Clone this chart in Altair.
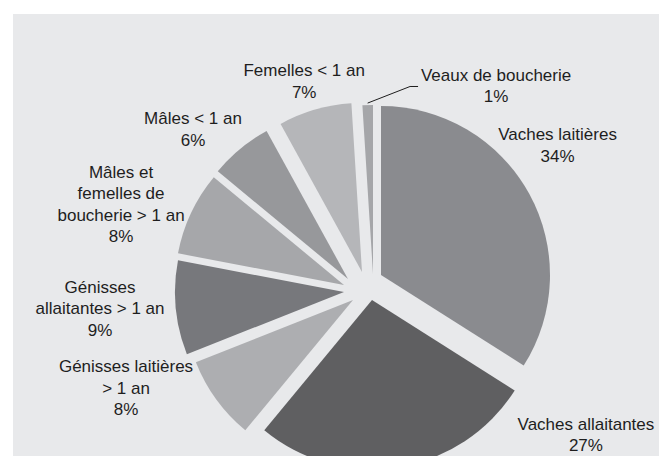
import math
import altair as alt
import pandas as pd

# ---------------- data ----------------
categories = [
    "Vaches laitières",
    "Vaches allaitantes",
    "Génisses laitières > 1 an",
    "Génisses allaitantes > 1 an",
    "Mâles et femelles de boucherie > 1 an",
    "Mâles < 1 an",
    "Femelles < 1 an",
    "Veaux de boucherie",
]
shares = [34, 27, 8, 9, 8, 6, 7, 1]
label_names = [
    "Vaches laitières",
    "Vaches allaitantes",
    "Génisses laitières\n> 1 an",
    "Génisses\nallaitantes > 1 an",
    "Mâles et\nfemelles de\nboucherie > 1 an",
    "Mâles < 1 an",
    "Femelles < 1 an",
    "Veaux de boucherie",
]

# ---------------- style ----------------
colors = ["#8a8b8f", "#5f5f61", "#adaeb1", "#77787c",
          "#a6a7aa", "#97989b", "#b5b6b9", "#a5a6a9"]
BG = "#e8e9eb"
TEXT = "#1e1e1e"
PIE_CX, PIE_CY = 352, 272       # pie centre inside the view (px)
RADIUS = 169
LINE_H = 21.5
# explosion of each slice (px)
shift_x = [16, 7, -12, -21, -21, -17, -3, 8]
shift_y = [-11, 14, 14, 6, -1, -7, -14, -12]
# label placement (block centre), polar around the pie centre (deg clockwise from north, px)
label_angle = [54.0, 124.1, 246.7, 265.0, 288.4, 312.2, 343.4, 33.3]
label_dist = [238.0, 266.8, 260.2, 266.0, 257.1, 232.2, 212.9, 238.7]

W, H = 646, 442

# ---------------- derived tables ----------------
total = sum(shares)
rows = []
cum = 0
for i, (c, v) in enumerate(zip(categories, shares)):
    a0 = cum / total * 2 * math.pi
    cum += v
    a1 = cum / total * 2 * math.pi
    la = math.radians(label_angle[i])
    text = label_names[i] + "\n" + f"{v}%"
    n_lines = text.count("\n") + 1
    block_y = PIE_CY - label_dist[i] * math.cos(la)
    rows.append({
        "cat": c,
        "share": v,
        "a0": a0,
        "a1": a1,
        "cx": PIE_CX + shift_x[i],
        "cy": PIE_CY + shift_y[i],
        "lx": PIE_CX + label_dist[i] * math.sin(la),
        "ly": block_y,
        "ly_first": block_y - (n_lines - 1) / 2 * LINE_H,
        "label": text,
    })
df = pd.DataFrame(rows)

# leader line for the smallest slice
small = df.iloc[-1]
mid = (small["a0"] + small["a1"]) / 2
lead = pd.DataFrame({
    "x": [small["cx"] + (RADIUS + 2) * math.sin(mid), small["lx"] - 86, small["lx"] - 78],
    "y": [small["cy"] - (RADIUS + 2) * math.cos(mid), small["ly"], small["ly"]],
    "o": [0, 1, 2],
})

arcs = alt.Chart(df).mark_arc(radius=RADIUS, stroke=None).encode(
    x=alt.X("cx:Q", scale=None, axis=None),
    y=alt.Y("cy:Q", scale=None, axis=None),
    theta=alt.Theta("a0:Q", scale=None),
    theta2="a1:Q",
    color=alt.Color("cat:N", scale=alt.Scale(domain=categories, range=colors), legend=None),
)

labels = alt.Chart(df).mark_text(
    font="Liberation Sans", fontSize=17, color=TEXT, align="center",
    baseline="middle", lineBreak="\n", lineHeight=LINE_H,
).encode(
    x=alt.X("lx:Q", scale=None, axis=None),
    y=alt.Y("ly_first:Q", scale=None, axis=None),
    text="label:N",
)

leader = alt.Chart(lead).mark_line(color=TEXT, strokeWidth=1).encode(
    x=alt.X("x:Q", scale=None, axis=None),
    y=alt.Y("y:Q", scale=None, axis=None),
    order="o:Q",
)

chart = alt.layer(arcs, leader, labels).properties(
    width=W, height=H,
    padding={"left": 5, "top": 6, "right": 0, "bottom": 0},
    autosize=alt.AutoSizeParams(type="none"),
    background="white",
).configure_view(fill=BG, stroke=None)

chart.save("out.html", embed_options={"renderer": "svg", "actions": False})
